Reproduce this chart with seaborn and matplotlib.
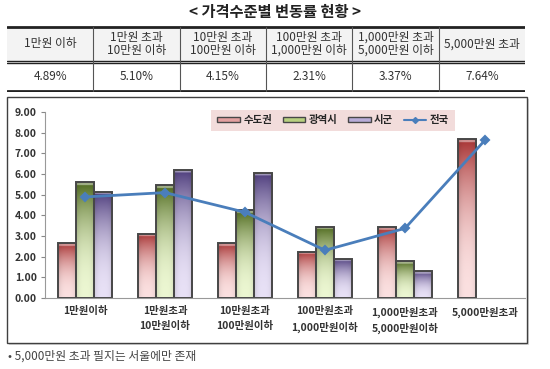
import numpy as np
import pandas as pd
import matplotlib
matplotlib.use('Agg')
import matplotlib.pyplot as plt
import seaborn as sns
from matplotlib.colors import to_rgb
from matplotlib.patches import Rectangle, Patch
from matplotlib.lines import Line2D

sns.set_style('white')
plt.rcParams['font.family'] = ['Noto Sans CJK KR', 'DejaVu Sans']

# chart data
groups = ['1만원이하', '1만원초과\n10만원이하', '10만원초과\n100만원이하',
          '100만원초과\n1,000만원이하', '1,000만원초과\n5,000만원이하', '5,000만원초과']
header_labels = ['1만원 이하', '1만원 초과\n10만원 이하', '10만원 초과\n100만원 이하',
                 '100만원 초과\n1,000만원 이하', '1,000만원 초과\n5,000만원 이하', '5,000만원 초과']
series = ['수도권', '광역시', '시군']
capital = [2.65, 3.12, 2.65, 2.25, 3.42, 7.68]
metro = [5.60, 5.45, 4.25, 3.45, 1.78, np.nan]
province = [5.15, 6.20, 6.07, 1.90, 1.30, np.nan]
national = [4.89, 5.10, 4.15, 2.31, 3.37, 7.64]

# gradient colours per series: (top, bottom)
grads = [('#a83434', '#fbe0e0'), ('#4f6a1e', '#ecf7d2'), ('#4d3c7c', '#e8e1f6')]
mids = ['#e3a0a0', '#b8d080', '#b8acd8']
line_col = '#4a7ebb'

df = pd.DataFrame({'group': groups * 3,
                   'region': np.repeat(series, len(groups)),
                   'rate': capital + metro + province})

fig = plt.figure(figsize=(5.5, 3.69), dpi=100)
W, H = 550, 369

# title
fig.text(0.5, 1 - 12 / H, '< 가격수준별 변동률 현황 >', ha='center', va='center',
         fontsize=11, weight='bold', color='#222222')

# summary table on top
tax = fig.add_axes([7 / W, 1 - 92 / H, 518 / W, 66 / H])
tax.set_xlim(0, 6)
tax.set_ylim(92, 26)
tax.axis('off')
tax.add_patch(Rectangle((0, 27.5), 6, 33.5, color='#f3f3f3', lw=0))
tax.axhline(27, color='#222222', lw=2)
tax.axhline(60.6, color='#222222', lw=1)
tax.axhline(63.4, color='#222222', lw=1)
tax.axhline(91, color='#222222', lw=2)
for i in range(1, 6):
    tax.plot([i, i], [27, 91], color='#555555', lw=0.8)
for i, (lab, val) in enumerate(zip(header_labels, national)):
    tax.text(i + 0.5, 44, lab, ha='center', va='center', fontsize=8.5,
             color='#333333', linespacing=1.0)
    tax.text(i + 0.5, 77, f'{val:.2f}%', ha='center', va='center', fontsize=8.5,
             color='#333333')

# chart frame (behind the chart axes)
fig.add_artist(Rectangle((9 / W, 1 - 345 / H), 520 / W, 246 / H, transform=fig.transFigure,
                         fill=True, facecolor='#d8d8d8', edgecolor='none', zorder=-2))
fig.add_artist(Rectangle((7 / W, 1 - 343 / H), 520 / W, 246 / H, transform=fig.transFigure,
                         facecolor='white', edgecolor='#404040', lw=1, zorder=-1))

ax = fig.add_axes([45 / W, 1 - 298 / H, 480 / W, 186 / H])
ax.patch.set_alpha(0)
sns.barplot(data=df, x='group', y='rate', hue='region', hue_order=series, order=groups,
            palette=mids, width=0.68, edgecolor='#474747', linewidth=1.4,
            legend=False, ax=ax)

# 3d-ish gradient fill for each bar
for cont, (top, bot) in zip(ax.containers, grads):
    c_top, c_bot = np.array(to_rgb(top)), np.array(to_rgb(bot))
    t = np.linspace(0, 1, 150)[:, None, None]
    u = np.linspace(-1, 1, 40)[None, :, None]
    shade = 1 - 0.12 * np.abs(u) ** 3
    for bar in cont:
        h = bar.get_height()
        if not np.isfinite(h) or h <= 0:
            continue
        # light at the bottom, dark just under the top, light cap on top
        rgb = c_bot + (c_top - c_bot) * t ** 2.2
        depth = (1 - t) * h
        cap = (depth < 0.13)
        rgb = np.where(cap, rgb * 0.55 + 0.45, rgb) * shade
        img = ax.imshow(np.clip(rgb, 0, 1), extent=[bar.get_x(), bar.get_x() + bar.get_width(), 0, h],
                        origin='lower', aspect='auto', interpolation='bilinear', zorder=1.5)
        img.set_clip_path(bar)
        bar.set_facecolor('none')
        bar.set_zorder(2)

sns.pointplot(x=groups, y=national, order=groups, color=line_col, markers='D',
              markersize=4, linewidth=2, ax=ax, zorder=5)

ax.set_xlim(-0.5, 5.5)
ax.set_ylim(0, 9)
ax.set_yticks(np.arange(0, 9.01, 1))
ax.set_yticklabels([f'{v:.2f}' for v in np.arange(0, 9.01, 1)])
ax.set_xlabel('')
ax.set_ylabel('')
ax.set_xticks(range(len(groups)))
ax.set_xticklabels(groups, linespacing=1.6)
ax.set_xticks(np.arange(0.5, 5.0, 1), minor=True)
ax.tick_params(axis='x', which='major', length=0, pad=6, labelsize=7.5, labelcolor='#333333')
ax.tick_params(axis='x', which='minor', length=4, color='#888888', width=0.8, direction='out')
ax.tick_params(axis='y', length=3, color='#888888', width=0.8, pad=3, labelsize=7.5,
               labelcolor='#333333', direction='out', left=True)
for lab in ax.get_xticklabels() + ax.get_yticklabels():
    lab.set_fontweight('bold')
for s in ['top', 'right']:
    ax.spines[s].set_visible(False)
for s in ['left', 'bottom']:
    ax.spines[s].set_color('#999999')
    ax.spines[s].set_linewidth(0.8)

handles = [Patch(facecolor=m, edgecolor='#474747', lw=1) for m in mids]
handles.append(Line2D([], [], color=line_col, lw=1.5, marker='D', markersize=3))
leg = ax.legend(handles, series + ['전국'], loc='center', bbox_to_anchor=(0.6, 0.955), ncol=4,
                frameon=True, facecolor='#f2dcdb', edgecolor='none', fancybox=False,
                prop={'size': 7.5, 'weight': 'bold'}, handlelength=2.2, handleheight=0.3,
                handletextpad=0.3, columnspacing=1.0, borderpad=0.55)
leg.get_frame().set_alpha(1)

# footnote
fig.text(8 / W, 1 - 356 / H, '• 5,000만원 초과 필지는 서울에만 존재', ha='left', va='center',
         fontsize=8.5, color='#444444')

fig.savefig('out.png', dpi=100)
